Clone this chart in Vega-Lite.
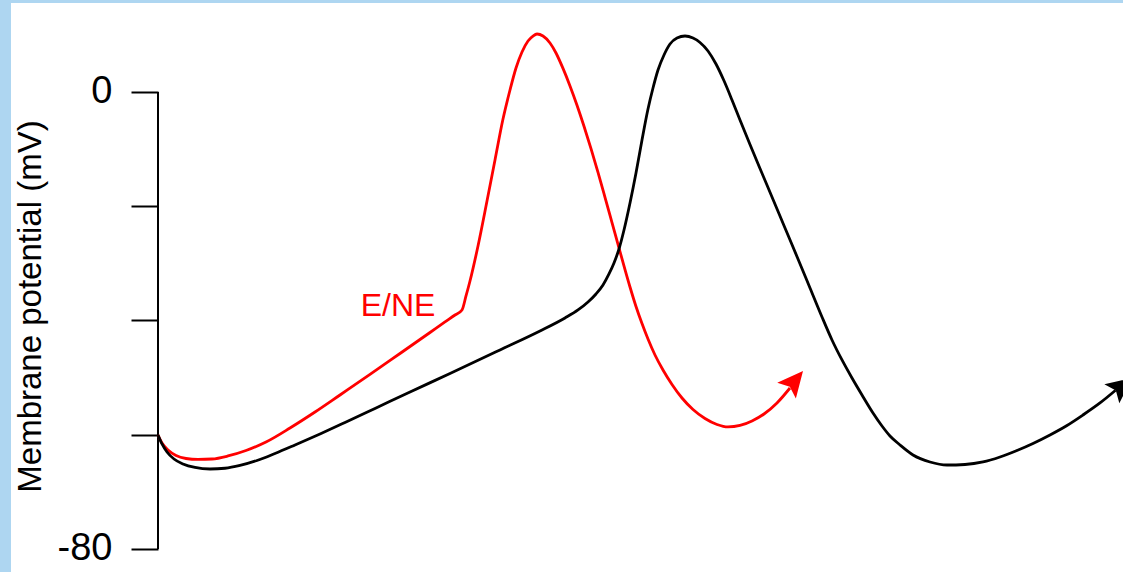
{
  "$schema": "https://vega.github.io/schema/vega-lite/v6.json",
  "width": 1112,
  "height": 569,
  "autosize": {"type": "none"},
  "padding": {"left": 11, "top": 3, "right": 0, "bottom": 0},
  "background": "#aed6f1",
  "config": {"view": {"fill": "white", "stroke": null}, "font": "Liberation Sans"},
  "datasets": {
    "axisline": [{"t": 0, "mV": -80, "mV2": 0}],
    "red": [
      {"t": 0, "mV": -60.04}, {"t": 4, "mV": -61.44}, {"t": 10, "mV": -62.67}, {"t": 18, "mV": -63.63},
      {"t": 28, "mV": -64.16}, {"t": 40, "mV": -64.33}, {"t": 54, "mV": -64.25}, {"t": 70, "mV": -63.72},
      {"t": 88, "mV": -62.76}, {"t": 108, "mV": -61.27}, {"t": 132, "mV": -58.82}, {"t": 157, "mV": -56.02},
      {"t": 182, "mV": -53.04}, {"t": 212, "mV": -49.45}, {"t": 242, "mV": -45.78}, {"t": 272, "mV": -42.1},
      {"t": 287, "mV": -40.26}, {"t": 297, "mV": -39.04}, {"t": 304, "mV": -38.16}, {"t": 308, "mV": -35.71},
      {"t": 312, "mV": -33.09}, {"t": 320, "mV": -26.96}, {"t": 329, "mV": -19.08}, {"t": 337, "mV": -11.9},
      {"t": 345, "mV": -4.73}, {"t": 352, "mV": 0.35}, {"t": 358, "mV": 4.2}, {"t": 364, "mV": 7.0},
      {"t": 370, "mV": 8.93}, {"t": 375, "mV": 9.8}, {"t": 379, "mV": 10.15}, {"t": 385, "mV": 9.8},
      {"t": 392, "mV": 8.58}, {"t": 398, "mV": 6.83}, {"t": 405, "mV": 4.13}, {"t": 412, "mV": 1.07},
      {"t": 419, "mV": -2.31}, {"t": 426, "mV": -5.99}, {"t": 433, "mV": -9.91}, {"t": 440, "mV": -14.07},
      {"t": 447, "mV": -18.43}, {"t": 454, "mV": -22.86}, {"t": 462, "mV": -27.94}, {"t": 472, "mV": -34.14},
      {"t": 478, "mV": -37.55}, {"t": 484, "mV": -40.53}, {"t": 490, "mV": -43.24}, {"t": 497, "mV": -46.04},
      {"t": 505, "mV": -48.67}, {"t": 514, "mV": -51.2}, {"t": 524, "mV": -53.57}, {"t": 535, "mV": -55.58},
      {"t": 547, "mV": -57.16}, {"t": 559, "mV": -58.21}, {"t": 570, "mV": -58.64}, {"t": 582, "mV": -58.38},
      {"t": 594, "mV": -57.59}, {"t": 606, "mV": -56.37}, {"t": 619, "mV": -54.44}, {"t": 632, "mV": -51.82}
    ],
    "black": [
      {"t": 0, "mV": -60.04}, {"t": 4, "mV": -61.62}, {"t": 9, "mV": -63.02}, {"t": 16, "mV": -64.25},
      {"t": 25, "mV": -65.12}, {"t": 37, "mV": -65.73}, {"t": 52, "mV": -66.0}, {"t": 67, "mV": -65.87},
      {"t": 82, "mV": -65.38}, {"t": 99, "mV": -64.51}, {"t": 117, "mV": -63.28}, {"t": 137, "mV": -61.79},
      {"t": 162, "mV": -59.87}, {"t": 187, "mV": -57.86}, {"t": 217, "mV": -55.4}, {"t": 252, "mV": -52.52},
      {"t": 292, "mV": -49.28}, {"t": 342, "mV": -45.16}, {"t": 382, "mV": -41.84}, {"t": 407, "mV": -39.56},
      {"t": 420, "mV": -38.16}, {"t": 430, "mV": -36.76}, {"t": 438, "mV": -35.36}, {"t": 445, "mV": -33.79},
      {"t": 451, "mV": -31.86}, {"t": 456, "mV": -29.93}, {"t": 461, "mV": -27.48}, {"t": 466, "mV": -24.16},
      {"t": 472, "mV": -19.43}, {"t": 478, "mV": -14.18}, {"t": 484, "mV": -8.4}, {"t": 490, "mV": -2.98},
      {"t": 495, "mV": 0.7}, {"t": 500, "mV": 3.85}, {"t": 506, "mV": 6.48}, {"t": 512, "mV": 8.4},
      {"t": 519, "mV": 9.45}, {"t": 527, "mV": 9.8}, {"t": 535, "mV": 9.45}, {"t": 542, "mV": 8.67},
      {"t": 550, "mV": 7.18}, {"t": 558, "mV": 4.9}, {"t": 566, "mV": 1.96}, {"t": 574, "mV": -1.4},
      {"t": 582, "mV": -4.9}, {"t": 592, "mV": -9.19}, {"t": 602, "mV": -13.39}, {"t": 614, "mV": -18.38},
      {"t": 627, "mV": -23.81}, {"t": 640, "mV": -29.23}, {"t": 652, "mV": -34.31}, {"t": 664, "mV": -39.39},
      {"t": 674, "mV": -43.41}, {"t": 684, "mV": -46.91}, {"t": 694, "mV": -50.07}, {"t": 704, "mV": -53.04},
      {"t": 715, "mV": -56.19}, {"t": 724, "mV": -58.47}, {"t": 732, "mV": -60.22}, {"t": 742, "mV": -61.79},
      {"t": 755, "mV": -63.54}, {"t": 772, "mV": -64.77}, {"t": 789, "mV": -65.3}, {"t": 807, "mV": -65.21},
      {"t": 825, "mV": -64.77}, {"t": 842, "mV": -63.9}, {"t": 859, "mV": -62.76}, {"t": 875, "mV": -61.53},
      {"t": 892, "mV": -60.04}, {"t": 909, "mV": -58.38}, {"t": 925, "mV": -56.54}, {"t": 942, "mV": -54.44},
      {"t": 957.6, "mV": -52.22}
    ],
    "redTip": [{"t": 645, "mV": -48.84}],
    "blackTip": [{"t": 974, "mV": -50.07}],
    "label": [{"t": 240, "mV": -37.46, "text": "E/NE"}]
  },
  "layer": [
    {
      "data": {"name": "axisline"},
      "mark": {"type": "rule", "color": "black", "strokeWidth": 2},
      "encoding": {
        "x": {"field": "t", "type": "quantitative", "scale": {"domain": [-147, 965], "nice": false, "zero": false}, "axis": null},
        "y": {
          "field": "mV", "type": "quantitative",
          "scale": {"domain": [-84.03, 15.58], "nice": false, "zero": false},
          "axis": {
            "values": [0, -20, -40, -60, -80],
            "labelExpr": "datum.value == 0 ? '0' : (datum.value == -80 ? '-80' : '')",
            "domain": false, "grid": false,
            "ticks": true, "tickSize": 27, "tickWidth": 2, "tickColor": "black",
            "labelFontSize": 38, "labelColor": "black", "labelPadding": 19, "labelFont": "Liberation Sans",
            "labelOverlap": false, "labelBound": false, "labelFlush": false,
            "offset": -147,
            "title": "Membrane potential (mV)",
            "titleFontSize": 33, "titleFontWeight": "normal", "titleColor": "black", "titleFont": "Liberation Sans",
            "titleX": -128, "titleY": 303, "titleAngle": -90, "titleBaseline": "middle", "titleAlign": "center"
          }
        },
        "y2": {"field": "mV2"}
      }
    },
    {
      "data": {"name": "red"},
      "mark": {"type": "line", "color": "#ff0000", "strokeWidth": 2.8, "interpolate": "monotone"},
      "encoding": {
        "x": {"field": "t", "type": "quantitative"},
        "y": {"field": "mV", "type": "quantitative"}
      }
    },
    {
      "data": {"name": "black"},
      "mark": {"type": "line", "color": "#000000", "strokeWidth": 2.8, "interpolate": "monotone"},
      "encoding": {
        "x": {"field": "t", "type": "quantitative"},
        "y": {"field": "mV", "type": "quantitative"}
      }
    },
    {
      "data": {"name": "redTip"},
      "mark": {"type": "point", "shape": "M0,0L-0.95,2L0,1.6L0.95,2Z", "filled": true, "color": "#ff0000", "opacity": 1, "size": 655, "angle": 40, "strokeWidth": 0},
      "encoding": {
        "x": {"field": "t", "type": "quantitative"},
        "y": {"field": "mV", "type": "quantitative"}
      }
    },
    {
      "data": {"name": "blackTip"},
      "mark": {"type": "point", "shape": "M0,0L-0.95,2L0,1.6L0.95,2Z", "filled": true, "color": "#000000", "opacity": 1, "size": 655, "angle": 52, "strokeWidth": 0},
      "encoding": {
        "x": {"field": "t", "type": "quantitative"},
        "y": {"field": "mV", "type": "quantitative"}
      }
    },
    {
      "data": {"name": "label"},
      "mark": {"type": "text", "color": "#ff0000", "fontSize": 32, "font": "Liberation Sans", "align": "center", "baseline": "middle"},
      "encoding": {
        "x": {"field": "t", "type": "quantitative"},
        "y": {"field": "mV", "type": "quantitative"},
        "text": {"field": "text"}
      }
    }
  ]
}
